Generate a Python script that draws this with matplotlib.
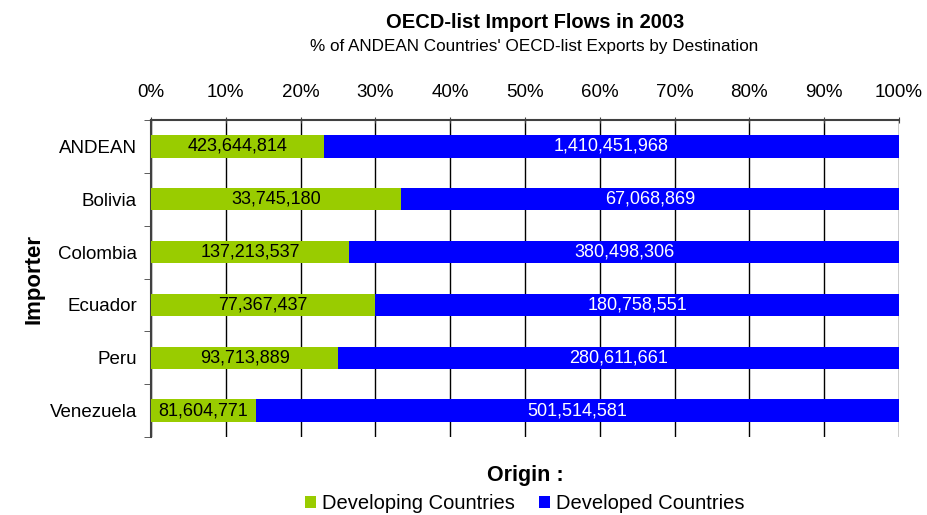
import numpy as np
import matplotlib.pyplot as plt
from matplotlib.ticker import PercentFormatter

importers = ['ANDEAN', 'Bolivia', 'Colombia', 'Ecuador', 'Peru', 'Venezuela']
developing = [423644814, 33745180, 137213537, 77367437, 93713889, 81604771]
developed = [1410451968, 67068869, 380498306, 180758551, 280611661, 501514581]

plt.rcParams['font.family'] = ['Liberation Sans', 'DejaVu Sans']

dev_a = np.array(developing, dtype=float)
dvd_a = np.array(developed, dtype=float)
tot = dev_a + dvd_a
share_dev = dev_a / tot * 100
share_dvd = dvd_a / tot * 100

fig = plt.figure(figsize=(9.27, 5.15), dpi=100)
ax = fig.add_axes([151 / 927, 1 - 437 / 515, (899 - 151) / 927, (437 - 120) / 515])

y = np.arange(len(importers))
h = 0.42
ax.barh(y, share_dev, height=h, color='#99cc00', label='Developing Countries', zorder=3)
ax.barh(y, share_dvd, left=share_dev, height=h, color='#0000ff', label='Developed Countries', zorder=3)

for i in range(len(importers)):
    ax.text(share_dev[i] / 2, y[i], f'{developing[i]:,}', ha='center', va='center',
            fontsize=13, color='black', zorder=4)
    ax.text(share_dev[i] + share_dvd[i] / 2, y[i], f'{developed[i]:,}', ha='center', va='center',
            fontsize=13, color='white', zorder=4)

ax.set_xlim(0, 100)
ax.set_ylim(len(importers) - 0.5, -0.5)
ax.set_xticks(np.arange(0, 101, 10))
ax.xaxis.set_major_formatter(PercentFormatter(decimals=0))
ax.xaxis.tick_top()
ax.tick_params(axis='x', labelsize=13.5, length=4, direction='inout', pad=12, color='#404040')
ax.set_yticks(y)
ax.set_yticklabels(importers, fontsize=13.5)
ax.set_yticks(np.arange(-0.5, len(importers), 1), minor=True)
ax.tick_params(axis='y', which='major', length=0, pad=10)
ax.tick_params(axis='y', which='minor', length=5, color='#404040')
ax.grid(axis='x', color='black', linewidth=1, zorder=0)

for s in ['right', 'bottom']:
    ax.spines[s].set_visible(False)
ax.spines['top'].set_color('#404040')
ax.spines['top'].set_linewidth(1.5)
ax.spines['left'].set_color('#404040')
ax.spines['left'].set_linewidth(1.5)

ax.set_ylabel('Importer', fontsize=16, fontweight='bold', labelpad=4)

fig.text(535 / 927, 1 - 22 / 515, 'OECD-list Import Flows in 2003', ha='center', va='center',
         fontsize=14.5, fontweight='bold')
fig.text(534 / 927, 1 - 46 / 515, "% of ANDEAN Countries' OECD-list Exports by Destination", ha='center',
         va='center', fontsize=12.3)

leg = fig.legend(loc='upper center', bbox_to_anchor=(525 / 927, 1 - 455 / 515), ncol=2, frameon=False,
                 title='Origin :', fontsize=14.5, handlelength=0.55, handleheight=0.55,
                 handletextpad=0.3, columnspacing=1.2, borderpad=0, labelspacing=0.4)
leg.get_title().set_fontweight('bold')
leg.get_title().set_fontsize(15.5)

fig.savefig('out.png', dpi=100)
